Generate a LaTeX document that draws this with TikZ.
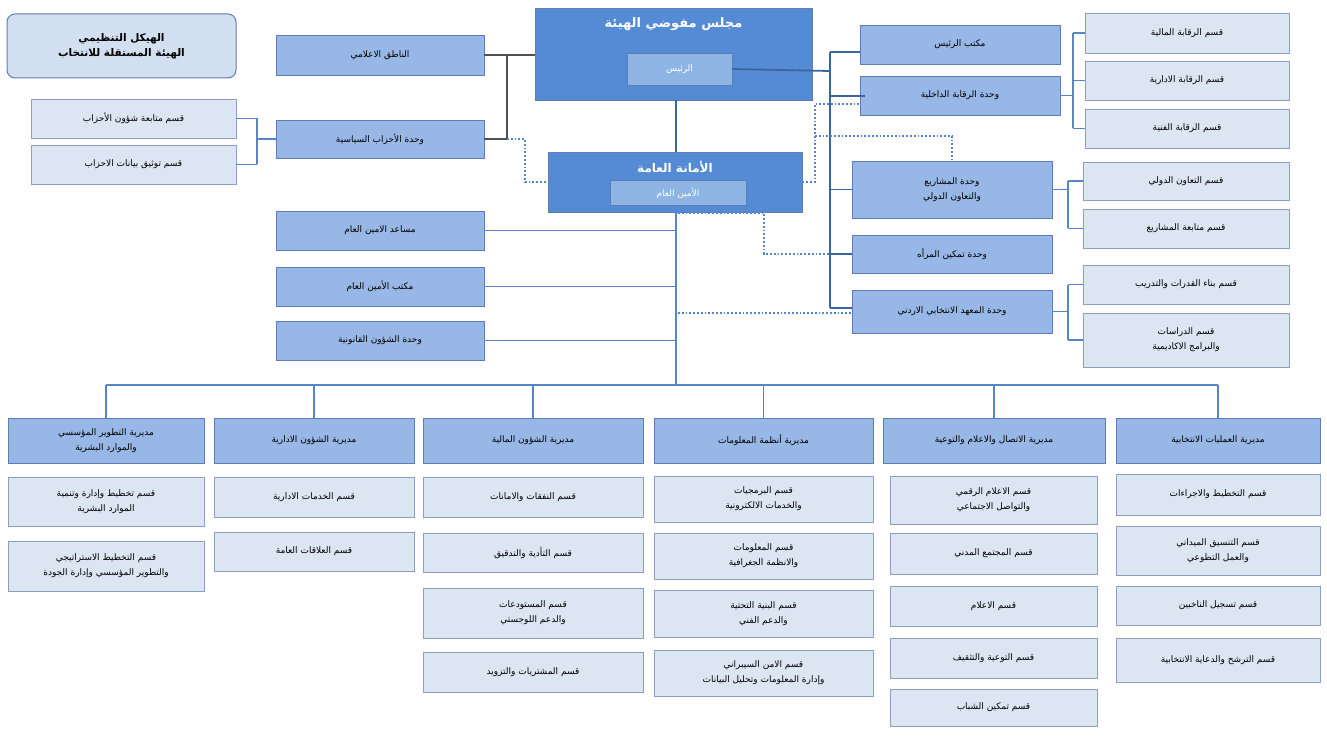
\documentclass[tikz,border=0pt]{standalone}
\usepackage{fontspec}
\newfontfamily\arfont[Script=Arabic]{DejaVu Sans}
\TeXXeTstate=1
\newcommand{\ar}[1]{{\arfont\beginR #1\endR}}
\definecolor{topblue}{RGB}{84,139,212}
\definecolor{innerblue}{RGB}{141,180,226}
\definecolor{unitblue}{RGB}{151,183,230}
\definecolor{unitline}{RGB}{95,125,180}
\definecolor{sectfill}{RGB}{220,230,242}
\definecolor{sectline}{RGB}{140,160,190}
\definecolor{linkblue}{RGB}{62,100,160}
\definecolor{busblue}{RGB}{85,135,200}
\definecolor{linkgray}{RGB}{80,80,80}
\tikzset{
  box/.style={draw, inner sep=1pt, align=center, font=\fontsize{9}{15}\selectfont},
  unit/.style={box, fill=unitblue, draw=unitline, line width=0.6pt},
  sect/.style={box, fill=sectfill, draw=sectline, line width=0.6pt},
  head/.style={box, fill=topblue, draw=unitline, text=white, line width=0.6pt},
  inner/.style={box, fill=innerblue, draw=unitline, text=white, line width=0.6pt},
  solid link/.style={draw=linkblue, line width=1.8pt},
  gray link/.style={draw=linkgray, line width=1.8pt},
  bus/.style={draw=busblue, line width=1.2pt},
  dot link/.style={draw=busblue, line width=1.8pt, dotted},
}
\begin{document}
\begin{tikzpicture}[x=1pt,y=-1pt]
\useasboundingbox[fill=white] (0,0) rectangle (1327,743);
% title
\node[box, rounded corners=8pt, fill=sectfill!85!unitblue, draw=unitline, line width=1pt,
  minimum width=229, minimum height=64, font=\fontsize{10.5}{15}\selectfont\bfseries] (title) at (121.5,46)
  {\ar{الهيكل التنظيمي}\\\ar{الهيئة المستقلة للانتخاب}};
% top
\node[head, minimum width=277, minimum height=92, font=\fontsize{13}{16}\selectfont\bfseries,
  text depth=62pt] (council) at (673.5,54) {\ar{مجلس مفوضي الهيئة}};
\node[inner, minimum width=105, minimum height=32] (pres) at (679.5,69) {\ar{الرئيس}};
\node[head, minimum width=254, minimum height=60, font=\fontsize{12}{16}\selectfont\bfseries,
  text depth=30pt] (secgen) at (675,182) {\ar{الأمانة العامة}};
\node[inner, minimum width=136, minimum height=25] (sg) at (678,193) {\ar{الأمين العام}};
% left units
\node[unit, minimum width=208, minimum height=40] (spokes) at (380,55) {\ar{الناطق الاعلامي}};
\node[unit, minimum width=208, minimum height=38] (parties) at (380,139) {\ar{وحدة الأحزاب السياسية}};
\node[unit, minimum width=208, minimum height=39] (assist) at (380,230.5) {\ar{مساعد الامين العام}};
\node[unit, minimum width=208, minimum height=39] (sgoff) at (380,286.5) {\ar{مكتب الأمين العام}};
\node[unit, minimum width=208, minimum height=39] (legal) at (380,340.5) {\ar{وحدة الشؤون القانونية}};
\node[sect, minimum width=205, minimum height=39] (ptrack) at (133.5,118.5) {\ar{قسم متابعة شؤون الأحزاب}};
\node[sect, minimum width=205, minimum height=39] (pdoc) at (133.5,164.5) {\ar{قسم توثيق بيانات الاحزاب}};
% right units
\node[unit, minimum width=200, minimum height=39] (presoff) at (960,44.5) {\ar{مكتب الرئيس}};
\node[unit, minimum width=200, minimum height=39] (audit) at (960,95.5) {\ar{وحدة الرقابة الداخلية}};
\node[unit, minimum width=200, minimum height=57] (proj) at (952,189.5) {\ar{وحدة المشاريع}\\\ar{والتعاون الدولي}};
\node[unit, minimum width=200, minimum height=38] (women) at (952,254) {\ar{وحدة تمكين المرأه}};
\node[unit, minimum width=200, minimum height=43] (inst) at (952,311.5) {\ar{وحدة المعهد الانتخابي الاردني}};
\node[sect, minimum width=204, minimum height=40] (afin) at (1187,33) {\ar{قسم الرقابة المالية}};
\node[sect, minimum width=204, minimum height=39] (aadm) at (1187,80.5) {\ar{قسم الرقابة الادارية}};
\node[sect, minimum width=204, minimum height=39] (atech) at (1187,128.5) {\ar{قسم الرقابة الفنية}};
\node[sect, minimum width=206, minimum height=38] (coop) at (1186,181) {\ar{قسم التعاون الدولي}};
\node[sect, minimum width=206, minimum height=39] (ptrk) at (1186,228.5) {\ar{قسم متابعة المشاريع}};
\node[sect, minimum width=206, minimum height=39] (train) at (1186,284.5) {\ar{قسم بناء القدرات والتدريب}};
\node[sect, minimum width=206, minimum height=54] (acad) at (1186,340) {\ar{قسم الدراسات}\\\ar{والبرامج الاكاديمية}};
% directorates
\node[unit, minimum width=196, minimum height=45] (d1) at (106,440.5) {\ar{مديرية التطوير المؤسسي}\\\ar{والموارد البشرية}};
\node[unit, minimum width=200, minimum height=45] (d2) at (314,440.5) {\ar{مديرية الشؤون الادارية}};
\node[unit, minimum width=220, minimum height=45] (d3) at (533,440.5) {\ar{مديرية الشؤون المالية}};
\node[unit, minimum width=219, minimum height=45] (d4) at (763.5,440.5) {\ar{مديرية أنظمة المعلومات}};
\node[unit, minimum width=222, minimum height=45] (d5) at (994,440.5) {\ar{مديرية الاتصال والاعلام والتوعية}};
\node[unit, minimum width=204, minimum height=45] (d6) at (1218,440.5) {\ar{مديرية العمليات الانتخابية}};
% sections
\node[sect, minimum width=196, minimum height=49] (s11) at (106,501.5) {\ar{قسم تخطيط وإدارة وتنمية}\\\ar{الموارد البشرية}};
\node[sect, minimum width=196, minimum height=50] (s12) at (106,566) {\ar{قسم التخطيط الاستراتيجي}\\\ar{والتطوير المؤسسي وإدارة الجودة}};
\node[sect, minimum width=200, minimum height=40] (s21) at (314,497) {\ar{قسم الخدمات الادارية}};
\node[sect, minimum width=200, minimum height=39] (s22) at (314,551.5) {\ar{قسم العلاقات العامة}};
\node[sect, minimum width=220, minimum height=40] (s31) at (533,497) {\ar{قسم النفقات والامانات}};
\node[sect, minimum width=220, minimum height=39] (s32) at (533,552.5) {\ar{قسم التأدية والتدقيق}};
\node[sect, minimum width=220, minimum height=50] (s33) at (533,613) {\ar{قسم المستودعات}\\\ar{والدعم اللوجستي}};
\node[sect, minimum width=220, minimum height=40] (s34) at (533,672) {\ar{قسم المشتريات والتزويد}};
\node[sect, minimum width=219, minimum height=46] (s41) at (763.5,499) {\ar{قسم البرمجيات}\\\ar{والخدمات الالكترونية}};
\node[sect, minimum width=219, minimum height=46] (s42) at (763.5,556) {\ar{قسم المعلومات}\\\ar{والانظمة الجغرافية}};
\node[sect, minimum width=219, minimum height=47] (s43) at (763.5,613.5) {\ar{قسم البنية التحتية}\\\ar{والدعم الفني}};
\node[sect, minimum width=219, minimum height=46] (s44) at (763.5,673) {\ar{قسم الامن السيبراني}\\\ar{وإدارة المعلومات وتحليل البيانات}};
\node[sect, minimum width=207, minimum height=48] (s51) at (993.5,500) {\ar{قسم الاعلام الرقمي}\\\ar{والتواصل الاجتماعي}};
\node[sect, minimum width=207, minimum height=41] (s52) at (993.5,553.5) {\ar{قسم المجتمع المدني}};
\node[sect, minimum width=207, minimum height=40] (s53) at (993.5,606) {\ar{قسم الاعلام}};
\node[sect, minimum width=207, minimum height=40] (s54) at (993.5,658) {\ar{قسم التوعية والتثقيف}};
\node[sect, minimum width=207, minimum height=37] (s55) at (993.5,707.5) {\ar{قسم تمكين الشباب}};
\node[sect, minimum width=204, minimum height=41] (s61) at (1218,494.5) {\ar{قسم التخطيط والاجراءات}};
\node[sect, minimum width=204, minimum height=49] (s62) at (1218,550.5) {\ar{قسم التنسيق الميداني}\\\ar{والعمل التطوعي}};
\node[sect, minimum width=204, minimum height=39] (s63) at (1218,605.5) {\ar{قسم تسجيل الناخبين}};
\node[sect, minimum width=204, minimum height=44] (s64) at (1218,660) {\ar{قسم الترشح والدعاية الانتخابية}};
% coordinates
\coordinate (lj) at (507,55);
\coordinate (rj) at (830,71);
\coordinate (bus) at (676,385);
% links left of council
\begin{scope}[on background layer/.try]
\path[gray link] (council.west |- lj) -- (lj) -- (spokes.east |- lj);
\path[gray link] (lj) -- (lj |- parties.east) -- (parties.east);
\path[dot link] (lj |- parties.east) -- (525,139) -- (525,182) -- (secgen.west);
% links right of council
\path[solid link] (pres.east) -- (rj);
\path[solid link] (830,52) -- (830,308);
\path[solid link] (830,52) -- (presoff.west |- 0,52);
\path[solid link] (830,96) -- (865,96);
\path[solid link] (830,189.5) -- (proj.west);
\path[solid link] (830,254) -- (women.west);
\path[solid link] (830,308) -- (inst.west |- 0,308);
\path[solid link] (council.south -| 676,0) -- (secgen.north -| 676,0);
% dotted links
\path[dot link] (secgen.east) -- (815,182) -- (815,104) -- (audit.west |- 0,104);
\path[dot link] (815,136) -- (952,136) -- (proj.north);
\path[dot link] (678,213) -- (764,213) -- (764,254) -- (830,254);
\path[dot link] (678,313) -- (inst.west |- 0,313);
% secretariat tree
\path[bus] (676,212) -- (bus);
\path[bus] (676,230.5) -- (assist.east);
\path[bus] (676,286.5) -- (sgoff.east);
\path[bus] (676,340.5) -- (legal.east);
\path[bus] (106,385) -- (1218,385);
\foreach \d in {d1,d2,d3,d4,d5,d6}
  \path[bus] (\d.north |- bus) -- (\d.north);
% section brackets
\path[bus] (parties.west) -- (257,139);
\path[bus] (257,118.5) -- (257,164.5);
\path[bus] (257,118.5) -- (ptrack.east);
\path[bus] (257,164.5) -- (pdoc.east);
\path[bus] (audit.east) -- (1073,95.5);
\path[bus] (1073,33) -- (1073,128.5);
\foreach \s in {afin,aadm,atech}
  \path[bus] (1073,0 |- \s.west) -- (\s.west);
\path[bus] (proj.east) -- (1068,189.5);
\path[bus] (1068,181) -- (1068,228.5);
\foreach \s in {coop,ptrk}
  \path[bus] (1068,0 |- \s.west) -- (\s.west);
\path[bus] (inst.east) -- (1068,311.5);
\path[bus] (1068,284.5) -- (1068,340);
\foreach \s in {train,acad}
  \path[bus] (1068,0 |- \s.west) -- (\s.west);
\end{scope}
\end{tikzpicture}
\end{document}
